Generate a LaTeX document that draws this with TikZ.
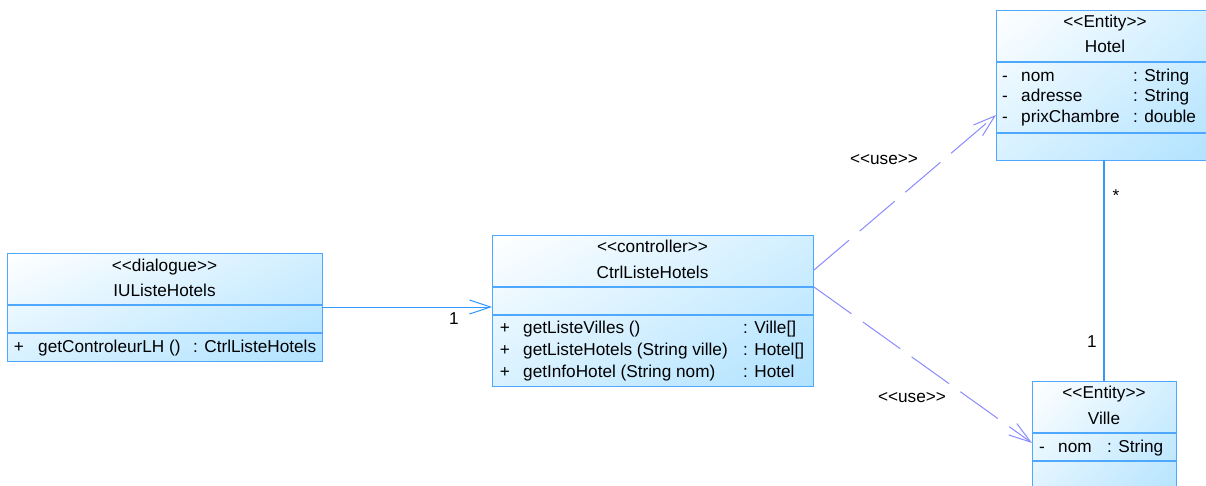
\documentclass[tikz,border=0pt]{standalone}
\usepackage{fontspec}
\setmainfont{Liberation Sans}[Ligatures=TeXOff]
\usetikzlibrary{arrows.meta,shadings}
\definecolor{boxborder}{HTML}{4FA8FF}
\definecolor{boxdark}{HTML}{B0E2FF}
\definecolor{boxmidA}{HTML}{D2EFFF}
\definecolor{boxmidB}{HTML}{D8F1FF}
\definecolor{assoc}{HTML}{3399FF}
\definecolor{uselink}{HTML}{8A8AFF}
\newcommand{\stL}{<\kern0pt<}
\newcommand{\stR}{>\kern0pt>}
\tikzset{
  umlbox/.style={draw=boxborder, line width=1.2pt, inner sep=0pt, anchor=north west,
    upper left=white, upper right=boxmidA, lower left=boxmidB, lower right=boxdark},
  divider/.style={draw=boxborder, line width=1.1pt},
  txt/.style={inner sep=0pt, font=\fontsize{17.2}{20}\selectfont, text=black},
  ltxt/.style={txt, anchor=base west},
  ctxt/.style={txt, anchor=base},
  assocline/.style={draw=assoc, line width=1pt, -{Straight Barb[length=21pt,width=14pt,line width=1pt]}},
  useline/.style={draw=uselink, line width=1pt, dash pattern=on 46pt off 14pt,
    -{Straight Barb[length=22pt,width=14pt,line width=1pt]}},
  plainline/.style={draw=assoc, line width=1.2pt},
}
\begin{document}
\begin{tikzpicture}[x=1pt,y=-1pt]
\useasboundingbox (0,0) rectangle (1206,486);
\clip (0,0) rectangle (1206,486);
\fill[white] (0,0) rectangle (1206,486);

% IUListeHotels
\node[umlbox, minimum width=315pt, minimum height=108pt] (iu) at (7,253) {};
\draw[divider] (7,305) -- (322,305);
\draw[divider] (7,333) -- (322,333);
\node[ctxt] (iust) at (164.5,271) {\stL dialogue\stR};
\node[ctxt] (iuname) at (164.5,296) {IUListeHotels};
\node[ctxt] (iuvis) at (19,352) {+};
\node[ltxt] (iuop) at (38,352) {getControleurLH ()};
\node[ltxt] (iuty) at (193,352) {: CtrlListeHotels};

% CtrlListeHotels
\node[umlbox, minimum width=321pt, minimum height=151pt] (ctrl) at (492,235) {};
\draw[divider] (492,287) -- (813,287);
\draw[divider] (492,315) -- (813,315);
\node[ctxt] (ctst) at (652.5,252) {\stL controller\stR};
\node[ctxt] (ctname) at (652.5,278) {CtrlListeHotels};
\node[ctxt] (cv1) at (505,333) {+};
\node[ctxt] (cv2) at (505,355) {+};
\node[ctxt] (cv3) at (505,377) {+};
\node[ltxt] (co1) at (523,333) {getListeVilles ()};
\node[ltxt] (co2) at (523,355) {getListeHotels (String ville)};
\node[ltxt] (co3) at (523,377) {getInfoHotel (String nom)};
\node[ltxt] (ct1) at (743,333) {: Ville[]};
\node[ltxt] (ct2) at (743,355) {: Hotel[]};
\node[ltxt] (ct3) at (743,377) {: Hotel};

% Hotel
\node[umlbox, minimum width=218pt, minimum height=150pt] (hotel) at (996,10) {};
\draw[divider] (996,62) -- (1214,62);
\draw[divider] (996,133) -- (1214,133);
\node[ctxt] (hst) at (1105,28) {\stL Entity\stR};
\node[ctxt] (hname) at (1105,53) {Hotel};
\node[ctxt] (hv1) at (1005,82) {-};
\node[ctxt] (hv2) at (1005,102) {-};
\node[ctxt] (hv3) at (1005,123) {-};
\node[ltxt] (ha1) at (1021,82) {nom};
\node[ltxt] (ha2) at (1021,102) {adresse};
\node[ltxt] (ha3) at (1021,123) {prixChambre};
\node[ltxt] (ht1) at (1133,82) {: String};
\node[ltxt] (ht2) at (1133,102) {: String};
\node[ltxt] (ht3) at (1133,123) {: double};

% Ville
\node[umlbox, minimum width=144pt, minimum height=130pt] (ville) at (1032,381) {};
\draw[divider] (1032,433) -- (1176,433);
\draw[divider] (1032,461) -- (1176,461);
\node[ctxt] (vst) at (1104,398) {\stL Entity\stR};
\node[ctxt] (vname) at (1104,424) {Ville};
\node[ctxt] (vv1) at (1042,452) {-};
\node[ltxt] (va1) at (1058,452) {nom};
\node[ltxt] (vt1) at (1107,452) {: String};

% connector end points
\coordinate (iuR) at (322,307);
\coordinate (ctrlL) at (492,307);
\coordinate (ctrlA) at (814,270);
\coordinate (ctrlB) at (814,287);
\coordinate (hotelL) at (996,115);
\coordinate (villeL) at (1032,443);
\coordinate (hotelB) at (1104,160);
\coordinate (villeT) at (1104,381);

\draw[assocline] (iuR) -- (ctrlL);
\node[ctxt] (m1) at (454,324) {1};
\draw[useline] (ctrlA) -- (hotelL);
\draw[useline] (ctrlB) -- (villeL);
\node[ctxt] (u1) at (884,165) {\stL use\stR};
\node[ctxt] (u2) at (912,402) {\stL use\stR};
\draw[plainline] (hotelB) -- (villeT);
\node[txt] (mstar) at (1116,196) {*};
\node[ctxt] (m2) at (1092,347) {1};
\end{tikzpicture}
\end{document}
